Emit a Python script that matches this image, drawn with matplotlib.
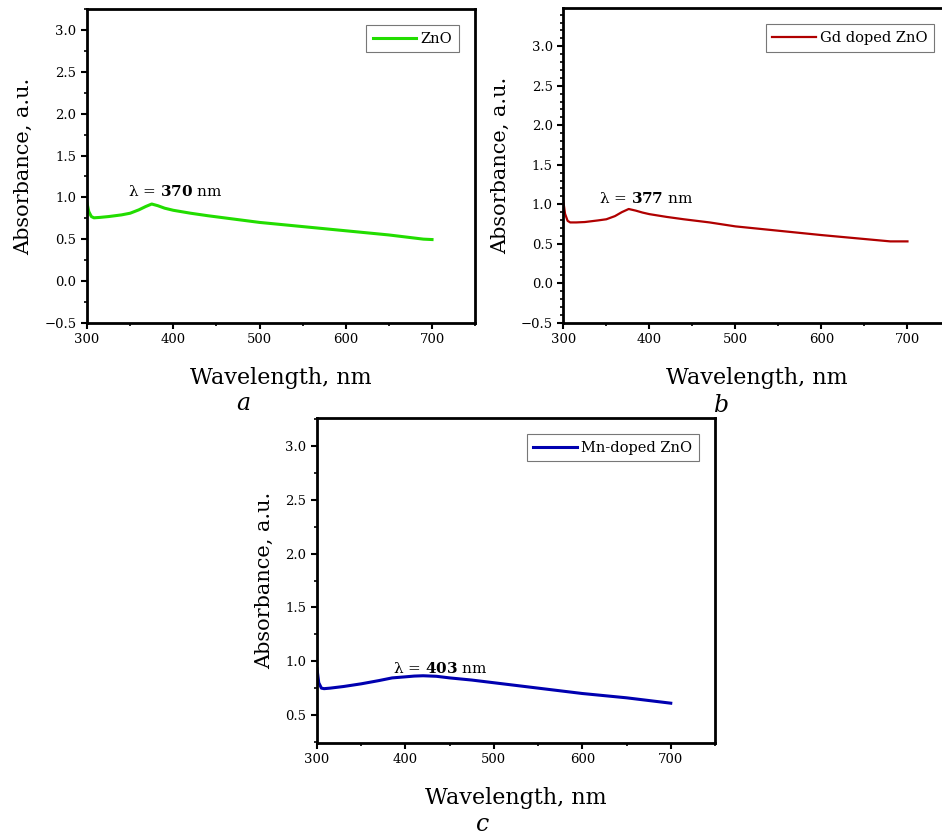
import matplotlib
matplotlib.use("Agg")
from matplotlib import pyplot as plt
from matplotlib.ticker import MultipleLocator
import numpy as np

plt.rcParams['font.family'] = 'DejaVu Serif'
plt.rcParams['mathtext.fontset'] = 'dejavuserif'

# absorbance spectra
wl_zno = [300, 302, 305, 308, 315, 325, 340, 350, 360, 368, 375, 382, 390, 400, 420, 440,
          470, 500, 550, 600, 650, 690, 700]
abs_zno = [0.93, 0.83, 0.77, 0.755, 0.76, 0.77, 0.79, 0.81, 0.85, 0.89, 0.92, 0.90, 0.87,
           0.845, 0.81, 0.78, 0.74, 0.70, 0.65, 0.60, 0.55, 0.50, 0.495]

wl_gd = [300, 302, 305, 308, 315, 325, 340, 350, 360, 368, 376, 384, 392, 400, 420, 440,
         470, 500, 550, 600, 650, 680, 700]
abs_gd = [1.04, 0.88, 0.79, 0.77, 0.77, 0.775, 0.795, 0.81, 0.85, 0.90, 0.94, 0.92, 0.895,
          0.875, 0.84, 0.81, 0.77, 0.72, 0.665, 0.61, 0.56, 0.53, 0.53]

wl_mn = [300, 302, 305, 308, 315, 330, 350, 370, 385, 400, 410, 420, 435, 450, 475, 500,
         550, 600, 650, 680, 700]
abs_mn = [0.93, 0.80, 0.75, 0.745, 0.75, 0.765, 0.79, 0.82, 0.845, 0.855, 0.862, 0.865,
          0.86, 0.845, 0.825, 0.80, 0.75, 0.70, 0.66, 0.63, 0.61]

panels = [
    # x, y, colour, legend, peak text, annotation position, axes rect, ylim, y minor, letter
    (wl_zno, abs_zno, '#22dd00', 'ZnO', '370', (348, 1.02),
     [0.0924, 0.613, 0.412, 0.376], (-0.5, 3.25), 0.25, 'a', (0.258, 0.508)),
    (wl_gd, abs_gd, '#b00000', 'Gd doped ZnO', '377', (341, 1.02),
     [0.598, 0.613, 0.411, 0.377], (-0.5, 3.48), 0.1, 'b', (0.766, 0.506)),
    (wl_mn, abs_mn, '#0000b0', 'Mn-doped ZnO', '403', (386, 0.89),
     [0.3365, 0.1091, 0.4225, 0.3897], (0.24, 3.26), 0.25, 'c', (0.512, 0.004)),
]

fig = plt.figure(figsize=(9.42, 8.34), dpi=100)

for x, y, col, name, peak, pos, rect, ylim, ymin, letter, lpos in panels:
    ax = fig.add_axes(rect)
    ax.plot(x, y, color=col, lw=2.2 if col != '#b00000' else 1.6, label=name)
    ax.set_xlim(300, 750)
    ax.set_ylim(*ylim)
    ax.xaxis.set_major_locator(MultipleLocator(100))
    ax.xaxis.set_minor_locator(MultipleLocator(50))
    ax.yaxis.set_major_locator(MultipleLocator(0.5))
    ax.yaxis.set_minor_locator(MultipleLocator(ymin))
    ax.tick_params(which='major', direction='out', length=4, width=1.5, labelsize=9.5,
                   top=False, right=False)
    ax.tick_params(which='minor', direction='out', length=2.5, width=1.2,
                   top=False, right=False)
    for sp in ax.spines.values():
        sp.set_linewidth(2)
    ax.set_xlabel('Wavelength, nm', fontsize=16, labelpad=15)
    ax.set_ylabel('Absorbance, a.u.', fontsize=15, labelpad=8)
    ax.text(pos[0], pos[1], 'λ = $\\mathbf{' + peak + '}$ nm', fontsize=11)
    leg = ax.legend(loc='upper right', fontsize=10.5, frameon=True, fancybox=False,
                    borderaxespad=1.1, handlelength=3.0, handletextpad=0.3,
                    borderpad=0.45)
    leg.get_frame().set_edgecolor('#555555')
    leg.get_frame().set_linewidth(0.8)
    fig.text(lpos[0], lpos[1], letter, fontsize=17, style='italic', ha='center')

fig.savefig('out.png', dpi=100)
